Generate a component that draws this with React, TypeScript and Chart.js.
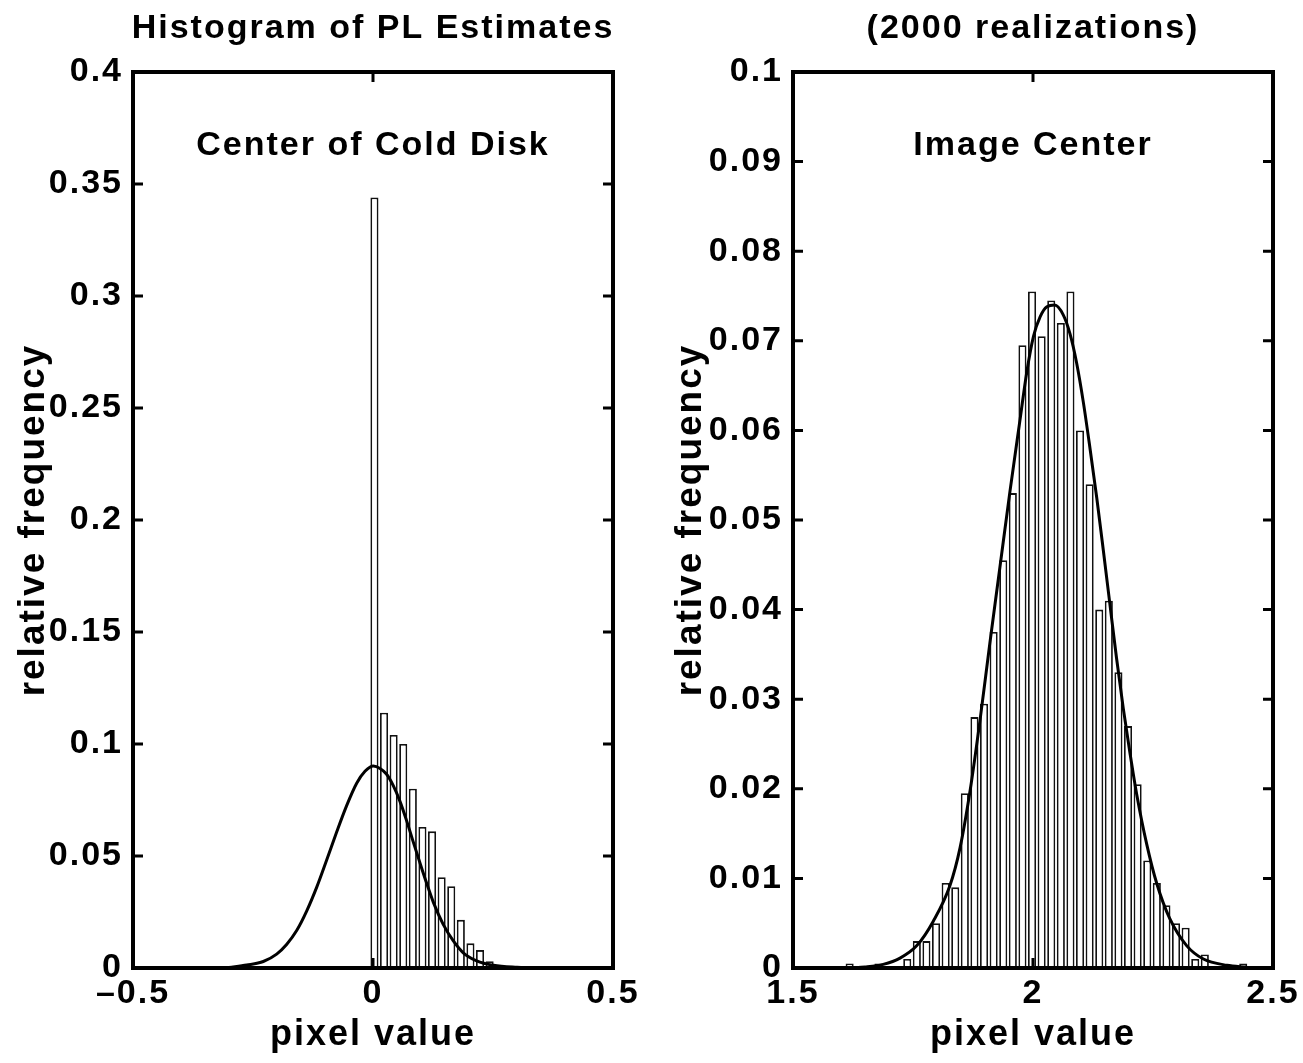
import React, { useEffect, useRef } from 'react';
import { Chart, registerables } from 'chart.js';

Chart.register(...registerables);

const FONT = '"Liberation Sans", Arial, Helvetica, sans-serif';
const PAGE_W = 1303;
const PAGE_H = 1063;

const X_LABEL = 'pixel value';
const Y_LABEL = 'relative frequency';

// ---------- left panel ----------
const LEFT_TITLE = 'Histogram of PL Estimates';
const LEFT_NOTE = 'Center of Cold Disk';
const LEFT_BIN_CENTERS = [0.003, 0.023, 0.043, 0.063, 0.083, 0.103, 0.123, 0.143, 0.163, 0.183, 0.203, 0.223, 0.243, 0.263, 0.283, 0.303];
const LEFT_FREQ = [0.344, 0.114, 0.104, 0.1, 0.08, 0.063, 0.061, 0.0405, 0.0365, 0.0215, 0.011, 0.008, 0.003, 0, 0, 0.0005];
const LEFT_FIT_X = [-0.3, -0.263, -0.2285, -0.2007, -0.18, -0.159, -0.138, -0.117, -0.0965, -0.0757, -0.0549, -0.034, -0.0167, 0.0007, 0.0146, 0.028, 0.042, 0.056, 0.07, 0.084, 0.098, 0.112, 0.126, 0.146, 0.167, 0.188, 0.216, 0.251, 0.3, 0.33];
const LEFT_FIT_Y = [0.0002, 0.0013, 0.0029, 0.0062, 0.0105, 0.0167, 0.0255, 0.0362, 0.0482, 0.0607, 0.0725, 0.0825, 0.0878, 0.0902, 0.0891, 0.0866, 0.0815, 0.0745, 0.0658, 0.0562, 0.0468, 0.0377, 0.0292, 0.0196, 0.0122, 0.0068, 0.0032, 0.0012, 0.0003, 0.0001];
const LEFT_X_TICKS = [-0.5, 0, 0.5];
const LEFT_X_TICK_LABELS = ['\u20130.5', '0', '0.5'];
const LEFT_Y_TICKS = [0, 0.05, 0.1, 0.15, 0.2, 0.25, 0.3, 0.35, 0.4];
const LEFT_Y_TICK_LABELS = ['0', '0.05', '0.1', '0.15', '0.2', '0.25', '0.3', '0.35', '0.4'];

// ---------- right panel ----------
const RIGHT_TITLE = '(2000 realizations)';
const RIGHT_NOTE = 'Image Center';
const RIGHT_BIN_CENTERS = [1.618, 1.638, 1.658, 1.678, 1.698, 1.718, 1.738, 1.758, 1.778, 1.798, 1.818, 1.838, 1.858, 1.878, 1.898, 1.918, 1.938, 1.958, 1.978, 1.998, 2.018, 2.038, 2.058, 2.078, 2.098, 2.118, 2.138, 2.158, 2.178, 2.198, 2.218, 2.238, 2.258, 2.278, 2.298, 2.318, 2.338, 2.358, 2.378, 2.398, 2.418, 2.438];
const RIGHT_FREQ = [0.0005, 0, 0, 0.0005, 0, 0, 0.001, 0.003, 0.003, 0.005, 0.0095, 0.009, 0.0195, 0.028, 0.0295, 0.0375, 0.0455, 0.053, 0.0695, 0.0755, 0.0705, 0.0745, 0.072, 0.0755, 0.06, 0.054, 0.04, 0.041, 0.033, 0.027, 0.0205, 0.012, 0.0095, 0.007, 0.005, 0.0045, 0.001, 0.0015, 0, 0, 0, 0.0005];
const RIGHT_FIT_X = [1.62, 1.65, 1.688, 1.723, 1.758, 1.792, 1.827, 1.848, 1.869, 1.89, 1.91, 1.931, 1.952, 1.973, 1.987, 2.001, 2.015, 2.029, 2.045, 2.063, 2.077, 2.091, 2.105, 2.119, 2.133, 2.147, 2.16, 2.174, 2.188, 2.202, 2.216, 2.237, 2.258, 2.285, 2.32, 2.355, 2.404, 2.445];
const RIGHT_FIT_Y = [0.0, 0.0001, 0.0004, 0.0011, 0.0025, 0.0052, 0.0092, 0.0134, 0.0198, 0.0278, 0.0362, 0.0447, 0.0532, 0.0612, 0.0665, 0.0705, 0.0727, 0.0738, 0.074, 0.0729, 0.0708, 0.0675, 0.0631, 0.0579, 0.0524, 0.0464, 0.0407, 0.0346, 0.029, 0.024, 0.0194, 0.0138, 0.0094, 0.0055, 0.0025, 0.001, 0.0003, 0.0001];
const RIGHT_X_TICKS = [1.5, 2, 2.5];
const RIGHT_X_TICK_LABELS = ['1.5', '2', '2.5'];
const RIGHT_Y_TICKS = [0, 0.01, 0.02, 0.03, 0.04, 0.05, 0.06, 0.07, 0.08, 0.09, 0.1];
const RIGHT_Y_TICK_LABELS = ['0', '0.01', '0.02', '0.03', '0.04', '0.05', '0.06', '0.07', '0.08', '0.09', '0.1'];

type PanelProps = {
  left: number;
  width: number;
  plotLeft: number;
  plotRight: number;
  yTitlePad: number;
  title: string;
  note: string;
  noteX: number;
  noteY: number;
  centers: number[];
  freq: number[];
  fitX: number[];
  fitY: number[];
  xMin: number;
  xMax: number;
  yMax: number;
  xTicks: number[];
  xTickLabels: string[];
  yTicks: number[];
  yTickLabels: string[];
};

const PLOT_TOP = 72;
const PLOT_BOTTOM = 968;
const TICK_LEN = 10;
const TEXT_SIZE = 34;

function Panel(p: PanelProps) {
  const ref = useRef<HTMLCanvasElement>(null);

  useEffect(() => {
    const canvas = ref.current;
    if (!canvas) return;
    const font = { family: FONT, size: TEXT_SIZE, weight: 'bold' as const };

    const framePlugin = {
      id: 'frameAndText',
      beforeDraw(chart: any) {
        (chart.ctx as any).letterSpacing = '2px';
      },
      afterDatasetsDraw(chart: any) {
        const { ctx, chartArea: a, scales } = chart;
        const xs = scales.x;
        const ys = scales.y;
        ctx.save();
        ctx.strokeStyle = '#000';
        ctx.lineWidth = 3;
        ctx.beginPath();
        for (const v of p.xTicks) {
          const px = xs.getPixelForValue(v);
          ctx.moveTo(px, a.bottom);
          ctx.lineTo(px, a.bottom - TICK_LEN);
          ctx.moveTo(px, a.top);
          ctx.lineTo(px, a.top + TICK_LEN);
        }
        for (const v of p.yTicks) {
          const py = ys.getPixelForValue(v);
          ctx.moveTo(a.left, py);
          ctx.lineTo(a.left + TICK_LEN, py);
          ctx.moveTo(a.right, py);
          ctx.lineTo(a.right - TICK_LEN, py);
        }
        ctx.stroke();
        ctx.lineWidth = 4;
        ctx.lineJoin = 'miter';
        ctx.strokeRect(a.left, a.top, a.right - a.left, a.bottom - a.top);

        ctx.fillStyle = '#000';
        ctx.font = `bold ${TEXT_SIZE}px ${FONT}`;
        ctx.textAlign = 'center';
        ctx.textBaseline = 'alphabetic';
        ctx.fillText(p.title, (a.left + a.right) / 2, 38);
        ctx.fillText(p.note, xs.getPixelForValue(p.noteX), ys.getPixelForValue(p.noteY));
        ctx.restore();
      },
    };

    const chart = new Chart(canvas, {
      type: 'bar',
      data: {
        datasets: [
          {
            type: 'line',
            data: p.fitX.map((x, i) => ({ x, y: p.fitY[i] })),
            borderColor: '#000',
            borderWidth: 3,
            pointRadius: 0,
            fill: false,
            cubicInterpolationMode: 'monotone',
            order: 0,
          } as any,
          {
            type: 'bar',
            data: p.centers.map((x, i) => ({ x, y: p.freq[i] })),
            backgroundColor: '#ffffff',
            borderColor: '#111',
            borderWidth: 1.8,
            borderSkipped: false,
            barPercentage: 0.84,
            categoryPercentage: 1,
            order: 1,
          } as any,
        ],
      },
      options: {
        responsive: false,
        maintainAspectRatio: false,
        animation: false,
        layout: { padding: { top: PLOT_TOP, right: p.width - p.plotRight, left: 0, bottom: 0 } },
        plugins: {
          legend: { display: false },
          tooltip: { enabled: false },
          title: { display: false },
        },
        scales: {
          x: {
            type: 'linear',
            min: p.xMin,
            max: p.xMax,
            offset: false,
            grid: { display: false, drawTicks: false, offset: false },
            border: { display: false },
            ticks: {
              autoSkip: false,
              maxRotation: 0,
              minRotation: 0,
              padding: 5,
              color: '#000',
              font,
              callback: (_v: any, i: number) => p.xTickLabels[i],
            },
            afterBuildTicks: (s: any) => {
              s.ticks = p.xTicks.map((v) => ({ value: v }));
            },
            afterFit: (s: any) => {
              s.height = PAGE_H - PLOT_BOTTOM;
            },
            title: {
              display: true,
              text: X_LABEL,
              color: '#000',
              font: { family: FONT, size: 36, weight: 'bold' },
              padding: { top: 0, bottom: 6 },
            },
          },
          y: {
            type: 'linear',
            min: 0,
            max: p.yMax,
            grid: { display: false, drawTicks: false },
            border: { display: false },
            ticks: {
              autoSkip: false,
              padding: 10,
              color: '#000',
              font,
              callback: (_v: any, i: number) => p.yTickLabels[i],
            },
            afterBuildTicks: (s: any) => {
              s.ticks = p.yTicks.map((v) => ({ value: v }));
            },
            afterFit: (s: any) => {
              s.width = p.plotLeft;
            },
            title: {
              display: true,
              text: Y_LABEL,
              color: '#000',
              font: { family: FONT, size: 37, weight: 'bold' },
              padding: { top: p.yTitlePad, bottom: 0 },
            },
          },
        },
      } as any,
      plugins: [framePlugin],
    });
    return () => chart.destroy();
  }, []);

  return (
    <canvas
      ref={ref}
      width={p.width}
      height={PAGE_H}
      style={{ position: 'absolute', left: p.left, top: 0, width: p.width, height: PAGE_H, display: 'block' }}
    />
  );
}

export default function App() {
  return (
    <div style={{ position: 'fixed', left: 0, top: 0, width: PAGE_W, height: PAGE_H, background: '#fff', overflow: 'hidden' }}>
      <Panel
        left={0}
        width={651}
        plotLeft={133}
        plotRight={613}
        yTitlePad={12}
        title={LEFT_TITLE}
        note={LEFT_NOTE}
        noteX={0}
        noteY={0.363}
        centers={LEFT_BIN_CENTERS}
        freq={LEFT_FREQ}
        fitX={LEFT_FIT_X}
        fitY={LEFT_FIT_Y}
        xMin={-0.5}
        xMax={0.5}
        yMax={0.4}
        xTicks={LEFT_X_TICKS}
        xTickLabels={LEFT_X_TICK_LABELS}
        yTicks={LEFT_Y_TICKS}
        yTickLabels={LEFT_Y_TICK_LABELS}
      />
      <Panel
        left={651}
        width={652}
        plotLeft={142}
        plotRight={622}
        yTitlePad={18}
        title={RIGHT_TITLE}
        note={RIGHT_NOTE}
        noteX={2}
        noteY={0.0907}
        centers={RIGHT_BIN_CENTERS}
        freq={RIGHT_FREQ}
        fitX={RIGHT_FIT_X}
        fitY={RIGHT_FIT_Y}
        xMin={1.5}
        xMax={2.5}
        yMax={0.1}
        xTicks={RIGHT_X_TICKS}
        xTickLabels={RIGHT_X_TICK_LABELS}
        yTicks={RIGHT_Y_TICKS}
        yTickLabels={RIGHT_Y_TICK_LABELS}
      />
    </div>
  );
}
